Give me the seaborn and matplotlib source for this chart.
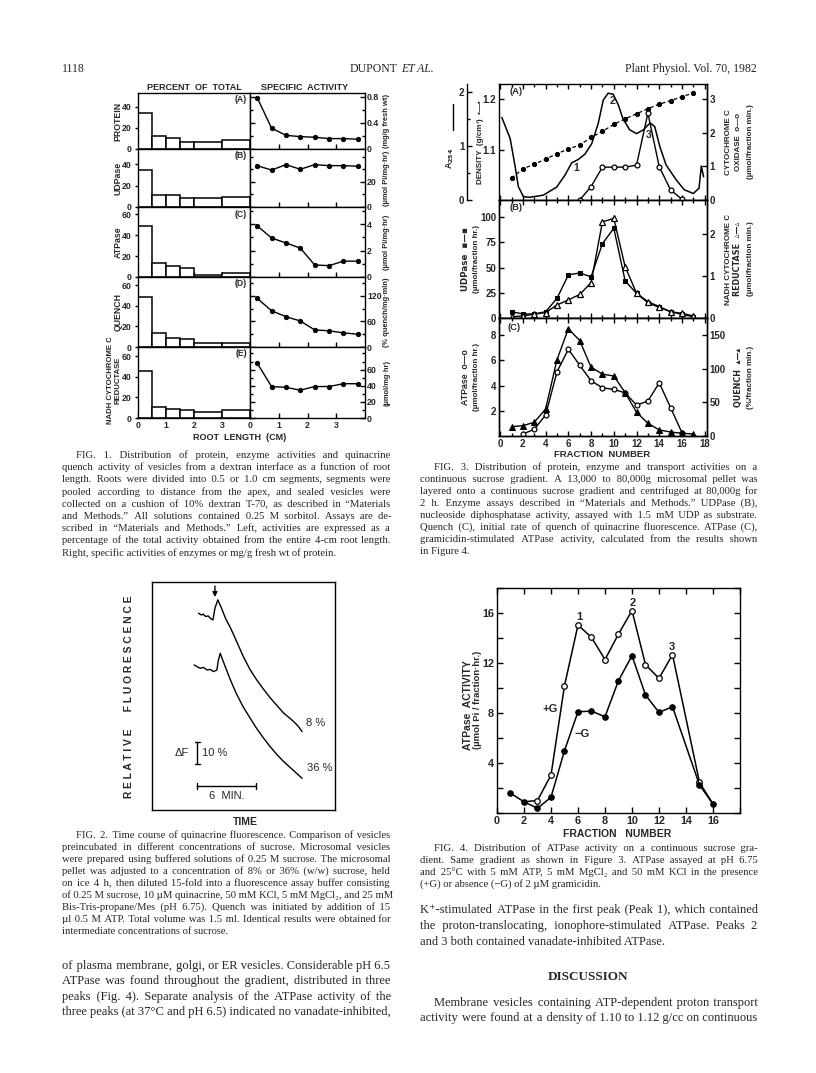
import numpy as np
import pandas as pd
import seaborn as sns
import matplotlib.pyplot as plt
from matplotlib.lines import Line2D
from matplotlib.ticker import FixedLocator

W, H = 816, 1073

# ---------------- Fig. 1 data ----------------
seg_edges = [0, 0.5, 1.0, 1.5, 2.0, 3.0, 4.0]
seg_mid = [0.25, 0.75, 1.25, 1.75, 2.5, 3.5]
pct_protein = [34, 12.5, 10.5, 7, 7, 8.5]
pct_udpase = [34, 11.5, 11.5, 8, 8.5, 9]
pct_atpase = [48.5, 13, 10.5, 8.5, 1.5, 3.5]
pct_quench = [48.5, 13.5, 9, 7.5, 4, 3.5]
pct_nadh = [45.5, 10.5, 9, 8, 5.5, 8]

root_pos = [0.25, 0.75, 1.25, 1.75, 2.25, 2.75, 3.25, 3.75]
sa_protein = [0.79, 0.32, 0.21, 0.19, 0.18, 0.16, 0.16, 0.15]
sa_udpase = [32.8, 29.3, 33.6, 29.9, 33.6, 32.8, 32.8, 32.3]
sa_atpase = [3.88, 2.95, 2.58, 2.19, 0.91, 0.86, 1.2, 1.2]
sa_quench = [114, 85, 71, 61, 40, 38, 33, 30]
sa_nadh = [68, 39, 38, 34.5, 39, 39, 42.5, 42.5]

# ---------------- Fig. 2 data ----------------
upper_t = [4.8, 5.1, 5.3, 5.55, 5.8, 6.05, 6.3, 6.5, 6.8, 7.2, 7.6, 8.1, 8.7,
           9.4, 10.1, 10.8, 11.5, 12.2, 12.9, 13.6, 14.3, 14.9, 15.2, 15.5]
upper_f = [89.4, 88.6, 89.0, 87.9, 88.2, 87.0, 86.4, 91.7, 95.5, 91.5, 87.0,
           82.8, 77.0, 70.0, 64.0, 59.2, 55.0, 51.0, 47.5, 44.0, 41.5, 39.0,
           37.5, 35.6]
lower_t = [4.35, 4.7, 5.0, 5.3, 5.7, 6.0, 6.35, 6.7, 6.85, 7.05, 7.4, 7.8, 8.1,
           8.7, 9.4, 10.1, 10.8, 11.5, 12.2, 12.9, 13.6, 14.3, 14.9, 15.5]
lower_f = [65.9, 65.0, 64.4, 64.8, 63.6, 63.9, 62.9, 63.6, 68.0, 71.2, 67.0,
           62.5, 59.1, 53.0, 47.0, 42.0, 37.1, 32.8, 28.8, 25.2, 22.0, 19.2,
           16.8, 14.4]

# ---------------- Fig. 3 data ----------------
frac = list(range(1, 18))
density = [1.043, 1.062, 1.071, 1.081, 1.092, 1.101, 1.109, 1.124, 1.136,
           1.150, 1.161, 1.171, 1.181, 1.190, 1.197, 1.205, 1.212]
a254_x = [0.15, 0.88, 1.32, 1.6, 2.05, 2.6, 3.8, 4.98, 5.7, 6.3, 6.87, 7.46,
          8.05, 8.63, 9.07, 9.5, 9.95, 10.4, 10.8, 11.4, 12.0, 12.6, 13.2,
          13.6, 14.05, 14.6, 15.5, 16.2, 17.0, 17.5, 17.7, 17.9]
a254 = [1.53, 1.14, 0.62, 0.25, 0.06, 0.05, 0.09, 0.24, 0.46, 0.69, 0.75, 0.85,
        1.04, 1.42, 1.85, 1.98, 1.96, 1.76, 1.51, 1.3, 1.23, 1.3, 1.43, 1.36,
        0.99, 0.65, 0.37, 0.19, 0.12, 0.22, 0.63, 0.43]
cyt_frac = [7, 8, 9, 10, 11, 12, 13, 14, 15, 16]
cyt_ox = [0.0, 0.4, 0.98, 0.98, 0.98, 1.04, 2.59, 0.99, 0.3, 0.02]
udpase = [6.2, 4, 4, 6.2, 19.4, 42.7, 44.7, 40.8, 73.7, 89, 36.8, 24.4, 15.1,
          10.5, 6.2, 3.6, 1.3]
nadh_red = [0.03, 0.05, 0.09, 0.13, 0.31, 0.43, 0.56, 0.84, 2.29, 2.37, 1.22,
            0.59, 0.39, 0.27, 0.15, 0.11, 0.05]
quench = [13.8, 15.3, 20.3, 40, 113, 159, 141.6, 102, 91.7, 89, 64.3, 35.2,
          18.9, 8.9, 5.9, 4, 3]
atp_frac = list(range(2, 17))
atpase_gs = [0.16, 0.53, 1.66, 5.08, 6.87, 5.61, 4.37, 3.82, 3.69, 3.42, 2.45,
             2.77, 4.21, 2.24, 0.26]

# ---------------- Fig. 4 data ----------------
minus_frac = [1, 2, 3, 4, 5, 6, 7, 8, 9, 10, 11, 12, 13, 15, 16]
minus_g = [1.58, 0.9, 0.38, 1.26, 4.99, 8.1, 8.15, 7.7, 10.59, 12.59, 9.44,
           8.05, 8.5, 2.24, 0.72]
plus_frac = [2, 3, 4, 5, 6, 7, 8, 9, 10, 11, 12, 13, 15, 16]
plus_g = [0.9, 1.0, 3.04, 10.19, 15.04, 14.05, 12.27, 14.32, 16.19, 11.87,
          10.77, 12.67, 2.45, 0.72]

# ---------------- text ----------------
cap1 = ["FIG. 1. Distribution of protein, enzyme activities and quinacrine",
        "quench activity of vesicles from a dextran interface as a function of root",
        "length. Roots were divided into 0.5 or 1.0 cm segments, segments were",
        "pooled according to distance from the apex, and sealed vesicles were",
        "collected on a cushion of 10% dextran T-70, as described in \u201cMaterials",
        "and Methods.\u201d All solutions contained 0.25 M sorbitol. Assays are de-",
        "scribed in \u201cMaterials and Methods.\u201d Left, activities are expressed as a",
        "percentage of the total activity obtained from the entire 4-cm root length.",
        "Right, specific activities of enzymes or mg/g fresh wt of protein."]
cap3 = ["FIG. 3. Distribution of protein, enzyme and transport activities on a",
        "continuous sucrose gradient. A 13,000 to 80,000g microsomal pellet was",
        "layered onto a continuous sucrose gradient and centrifuged at 80,000g for",
        "2 h. Enzyme assays described in \u201cMaterials and Methods.\u201d UDPase (B),",
        "nucleoside diphosphatase activity, assayed with 1.5 mM UDP as substrate.",
        "Quench (C), initial rate of quench of quinacrine fluorescence. ATPase (C),",
        "gramicidin-stimulated ATPase activity, calculated from the results shown",
        "in Figure 4."]
cap2 = ["FIG. 2. Time course of quinacrine fluorescence. Comparison of vesicles",
        "preincubated in different concentrations of sucrose. Microsomal vesicles",
        "were prepared using buffered solutions of 0.25 M sucrose. The microsomal",
        "pellet was adjusted to a concentration of 8% or 36% (w/w) sucrose, held",
        "on ice 4 h, then diluted 15-fold into a fluorescence assay buffer consisting",
        "of 0.25 M sucrose, 10 \u00b5M quinacrine, 50 mM KCl, 5 mM MgCl\u2082, and 25 mM",
        "Bis-Tris-propane/Mes (pH 6.75). Quench was initiated by addition of 15",
        "\u00b5l 0.5 M ATP. Total volume was 1.5 ml. Identical results were obtained for",
        "intermediate concentrations of sucrose."]
cap4 = ["FIG. 4. Distribution of ATPase activity on a continuous sucrose gra-",
        "dient. Same gradient as shown in Figure 3. ATPase assayed at pH 6.75",
        "and 25\u00b0C with 5 mM ATP, 5 mM MgCl\u2082 and 50 mM KCl in the presence",
        "(+G) or absence (\u2212G) of 2 \u00b5M gramicidin."]
body_left = ["of plasma membrane, golgi, or ER vesicles. Considerable pH 6.5",
             "ATPase was found throughout the gradient, distributed in three",
             "peaks (Fig. 4). Separate analysis of the ATPase activity of the",
             "three peaks (at 37\u00b0C and pH 6.5) indicated no vanadate-inhibited,"]
body_right1 = ["K\u207a-stimulated ATPase in the first peak (Peak 1), which contained",
               "the proton-translocating, ionophore-stimulated ATPase. Peaks 2",
               "and 3 both contained vanadate-inhibited ATPase."]
body_right2 = ["Membrane vesicles containing ATP-dependent proton transport",
               "activity were found at a density of 1.10 to 1.12 g/cc on continuous"]

SERIF = ['Liberation Serif', 'DejaVu Serif']
SANS = ['Liberation Sans', 'DejaVu Sans']

sns.set_style("ticks")
plt.rcParams['font.family'] = SANS
plt.rcParams['font.weight'] = 'bold'

fig = plt.figure(figsize=(W / 100, H / 100), dpi=100)
fig.patch.set_facecolor('white')


def box(x0, y0, x1, y1):
    return fig.add_axes([x0 / W, 1 - y1 / H, (x1 - x0) / W, (y1 - y0) / H])


def ftext(x, y, s, **kw):
    return fig.text(x / W, 1 - y / H, s, **kw)


def style(ax, size):
    for sp in ax.spines.values():
        sp.set_linewidth(1.0)
        sp.set_color('black')
    ax.tick_params(which='both', direction='in', labelsize=size, color='black',
                   width=1.0, pad=2)
    ax.tick_params(which='major', length=3.5)
    ax.tick_params(which='minor', length=2)
    ax.set(xlabel='', ylabel='')


def justify(lines, x0, x1, y0, step, size, indent=0, last_ragged=True):
    # one text per line; word gaps are padded with narrow spaces to fill the column
    r = fig.canvas.get_renderer()
    kw = dict(fontsize=size, family=SERIF, fontweight='normal', va='baseline')
    pad_char, unit = None, 0
    for ch in ["\u200a", "\u2009"]:
        a = ftext(0, 0, "x" + ch * 40 + "x", **kw)
        b = ftext(0, 0, "xx", **kw)
        unit = (a.get_window_extent(r).width - b.get_window_extent(r).width) / 40
        a.remove()
        b.remove()
        if unit > 0.3:
            pad_char = ch
            break
    for i, line in enumerate(lines):
        y = y0 + i * step
        xs = x0 + (indent if i == 0 else 0)
        t = ftext(xs, y, line, **kw)
        words = line.split(' ')
        if (i == len(lines) - 1 and last_ragged) or len(words) == 1 or pad_char is None:
            continue
        extra = (x1 - xs) - t.get_window_extent(r).width
        total = max(int(round(extra / unit)), 0)
        base, rem = divmod(total, len(words) - 1)
        parts = [words[0]]
        for j, w in enumerate(words[1:]):
            parts.append(' ' + pad_char * (base + (1 if j < rem else 0)) + w)
        t.set_text(''.join(parts))


def vline(x, y0, y1, lw=1.0):
    fig.add_artist(Line2D([x / W, x / W], [1 - y0 / H, 1 - y1 / H],
                          color='black', lw=lw))


# ---------------- header ----------------
ftext(62, 72, "1118", fontsize=8.5, family=SERIF, fontweight='normal', va='baseline')
ftext(397, 72, "DUPONT", fontsize=8.5, family=SERIF, fontweight='normal',
      va='baseline', ha='right')
ftext(401, 72, "ET AL.", fontsize=8.5, family=SERIF, fontweight='normal',
      style='italic', va='baseline', ha='left')
ftext(757, 72, "Plant Physiol. Vol. 70, 1982", fontsize=8.5, family=SERIF,
      fontweight='normal', va='baseline', ha='right')

# ---------------- Fig. 1 ----------------
f1_rows = [
    dict(y0=93, y1=149, pct=pct_protein, sa=sa_protein, name="PROTEIN",
         unit="(mg/g fresh wt)", tag="(A)", ltop=53, lt=[0, 20, 40],
         rtop=0.86, rt=[0, 0.4, 0.8], rl=["0", "0.4", "0.8"], rm=[0.2, 0.6]),
    dict(y0=149, y1=207, pct=pct_udpase, sa=sa_udpase, name="UDPase",
         unit="(\u00b5mol Pi/mg\u00b7hr)", tag="(B)", ltop=54, lt=[0, 20, 40],
         rtop=46, rt=[0, 20], rl=["0", "20"], rm=[10, 30, 40]),
    dict(y0=207, y1=277, pct=pct_atpase, sa=sa_atpase, name="ATPase",
         unit="(\u00b5mol Pi/mg\u00b7hr)", tag="(C)", ltop=67, lt=[0, 20, 40, 60],
         rtop=5.3, rt=[0, 2, 4], rl=["0", "2", "4"], rm=[1, 3, 5]),
    dict(y0=277, y1=347, pct=pct_quench, sa=sa_quench, name="QUENCH",
         unit="(% quench/mg\u00b7min)", tag="(D)", ltop=68, lt=[0, 20, 40, 60],
         rtop=164, rt=[0, 60, 120], rl=["0", "60", "120"], rm=[30, 90, 150]),
    dict(y0=347, y1=418, pct=pct_nadh, sa=sa_nadh,
         name="NADH CYTOCHROME C\nREDUCTASE", unit="(\u00b5mol/mg\u00b7hr)",
         tag="(E)", ltop=69, lt=[0, 20, 40, 60], rtop=88, rt=[0, 20, 40, 60],
         rl=["0", "20", "40", "60"], rm=[10, 30, 50, 70, 80]),
]

for k, row in enumerate(f1_rows):
    last = k == len(f1_rows) - 1
    axL = box(138, row['y0'], 250, row['y1'])
    sns.histplot(x=seg_mid, weights=row['pct'], bins=seg_edges, ax=axL,
                 color='white', edgecolor='black', linewidth=1.1, alpha=1)
    axL.set_xlim(0, 4)
    axL.set_ylim(0, row['ltop'])
    axL.set_yticks(row['lt'])
    style(axL, 6.3)
    axL.tick_params(axis='y', direction='out', length=2.5)
    if last:
        axL.set_xticks([0, 1, 2, 3])
    else:
        axL.set_xticks([1, 2, 3], ["", "", ""])

    axR = box(250, row['y0'], 365, row['y1'])
    sns.lineplot(x=root_pos, y=row['sa'], ax=axR, color='black', marker='o',
                 markersize=3.2, markeredgecolor='black', markeredgewidth=0.6,
                 linewidth=1.0)
    axR.set_xlim(0, 4)
    axR.set_ylim(0, row['rtop'])
    axR.yaxis.tick_right()
    axR.set_yticks(row['rt'], row['rl'])
    axR.yaxis.set_minor_locator(FixedLocator(row['rm']))
    style(axR, 6.3)
    axR.tick_params(axis='y', which='both', left=True, right=True, pad=1.5)
    if last:
        axR.set_xticks([0, 1, 2, 3])
    else:
        axR.set_xticks([1, 2, 3], ["", "", ""])

    yc = (row['y0'] + row['y1']) / 2
    if last:
        ftext(114, yc - 2, row['name'], rotation=90, fontsize=5.6, ha='center',
              va='center', linespacing=1.0)
    else:
        ftext(118, yc, row['name'], rotation=90, fontsize=6.3, ha='center',
              va='center')
    ftext(387, yc, row['unit'], rotation=90, fontsize=5.4, ha='center',
          va='center')
    ftext(247, row['y0'] + 7, row['tag'], fontsize=6.3, ha='right', va='center')

ftext(194, 87, "PERCENT  OF  TOTAL", fontsize=6.5, ha='center', va='center')
ftext(305, 87, "SPECIFIC  ACTIVITY", fontsize=6.5, ha='center', va='center')
ftext(240, 437, "ROOT  LENGTH  (CM)", fontsize=6.5, ha='center', va='center')

justify(cap1, 62, 390, 458, 12.2, 7.7, indent=14)

# ---------------- Fig. 3 ----------------
X3 = (-0.1, 18.2)


def frac_axis(ax, labels):
    ax.set_xlim(*X3)
    ax.xaxis.set_minor_locator(FixedLocator(list(range(1, 18, 2))))
    if labels:
        ax.set_xticks(list(range(0, 19, 2)))
    else:
        ax.set_xticks(list(range(0, 19, 2)), [""] * 10)
    ax.tick_params(axis='x', which='both', top=True, bottom=True)


# (A)
fA = box(499, 84, 707, 200)
sns.lineplot(x=frac, y=density, ax=fA, color='black', marker='o', markersize=3,
             markeredgecolor='black', linewidth=0.9, linestyle=(0, (3, 2)))
fA.set_ylim(1.0, 1.23)
fA.set_yticks([1.1, 1.2], ["1.1", "1.2"])
frac_axis(fA, False)
style(fA, 7)
fA.tick_params(axis='y', right=False)

fA2 = fA.twinx()
sns.lineplot(x=a254_x, y=a254, ax=fA2, color='black', linewidth=1.1, sort=False)
fA2.set_ylim(0, 2.15)
fA2.spines['left'].set_position(('outward', 23))
fA2.yaxis.set_ticks_position('left')
fA2.set_yticks([0, 1, 2])
fA2.yaxis.set_minor_locator(FixedLocator([0.5, 1.5]))
style(fA2, 7)
for s in ['right', 'top', 'bottom']:
    fA2.spines[s].set_visible(False)
fA2.spines['left'].set_bounds(0, 2.15)

fA3 = fA.twinx()
sns.lineplot(x=cyt_frac, y=cyt_ox, ax=fA3, color='black', marker='o',
             markersize=3.5, markerfacecolor='white', markeredgecolor='black',
             markeredgewidth=0.9, linewidth=1.0)
fA3.set_ylim(0, 3.46)
fA3.set_yticks([0, 1, 2, 3])
style(fA3, 7)
for s in ['left', 'top', 'bottom']:
    fA3.spines[s].set_visible(False)

ftext(510, 92, "(A)", fontsize=6.8, va='center')
ftext(576, 168, "1", fontsize=7.5, ha='center', va='center')
ftext(612, 101, "2", fontsize=7.5, ha='center', va='center')
ftext(649, 135, "3", fontsize=7.5, ha='center', va='center')

# (B)
fB = box(499, 200, 707, 318)
sns.lineplot(x=frac, y=udpase, ax=fB, color='black', marker='s', markersize=3.2,
             markeredgecolor='black', linewidth=1.0)
fB.set_ylim(0, 117)
fB.set_yticks([0, 25, 50, 75, 100])
frac_axis(fB, False)
style(fB, 7)
fB.tick_params(axis='y', right=False)
fB2 = fB.twinx()
sns.lineplot(x=frac, y=nadh_red, ax=fB2, color='black', marker='^',
             markersize=4, markerfacecolor='white', markeredgecolor='black',
             markeredgewidth=0.9, linewidth=1.0)
fB2.set_ylim(0, 2.81)
fB2.set_yticks([0, 1, 2])
style(fB2, 7)
ftext(510, 208, "(B)", fontsize=6.8, va='center')

# (C)
fC = box(499, 318, 707, 436)
sns.lineplot(x=atp_frac, y=atpase_gs, ax=fC, color='black', marker='o',
             markersize=3.5, markerfacecolor='white', markeredgecolor='black',
             markeredgewidth=0.9, linewidth=1.0)
fC.set_ylim(0, 9.35)
fC.set_yticks([2, 4, 6, 8])
frac_axis(fC, True)
style(fC, 7)
fC.tick_params(axis='y', right=False)
fC2 = fC.twinx()
sns.lineplot(x=frac, y=quench, ax=fC2, color='black', marker='^',
             markersize=4.2, markeredgecolor='black', linewidth=1.0)
fC2.set_ylim(0, 175)
fC2.set_yticks([0, 50, 100, 150])
style(fC2, 7)
ftext(507, 328, "(C)", fontsize=6.8, va='center')
ftext(602, 455, "FRACTION  NUMBER", fontsize=6.8, ha='center', va='center')

# Fig. 3 axis titles
vline(453, 104, 130)
ftext(450, 158, "A$_{254}$", rotation=90, fontsize=6.5, ha='center', va='center')
ftext(481, 142, "DENSITY  (g/cm\u00b3)  \u2022\u2014\u2022", rotation=90,
      fontsize=5.8, ha='center', va='center', family=SANS)
ftext(466, 259, "UDPase  \u25aa\u2014\u25aa", rotation=90, fontsize=6.3,
      ha='center', va='center', family=['DejaVu Sans'])
ftext(477, 259, "(\u00b5mol/fraction hr.)", rotation=90, fontsize=5.8,
      ha='center', va='center')
ftext(466, 377, "ATPase  o\u2014o", rotation=90, fontsize=6.3, ha='center',
      va='center')
ftext(477, 377, "(\u00b5mol/fraction hr.)", rotation=90, fontsize=5.8,
      ha='center', va='center')

ftext(728, 142, "CYTOCHROME C", rotation=90, fontsize=5.8, ha='center', va='center')
ftext(738, 142, "OXIDASE  o\u2014o", rotation=90, fontsize=5.8, ha='center',
      va='center')
ftext(750, 142, "(\u00b5mol/fraction min.)", rotation=90, fontsize=5.8,
      ha='center', va='center')
ftext(728, 259, "NADH CYTOCHROME C", rotation=90, fontsize=5.8, ha='center',
      va='center')
ftext(738, 259, "REDUCTASE  \u25b5\u2014\u25b5", rotation=90, fontsize=5.8,
      ha='center', va='center', family=['DejaVu Sans'])
ftext(750, 259, "(\u00b5mol/fraction min.)", rotation=90, fontsize=5.8,
      ha='center', va='center')
ftext(738, 377, "QUENCH  \u25b4\u2014\u25b4", rotation=90, fontsize=5.8,
      ha='center', va='center', family=['DejaVu Sans'])
ftext(750, 377, "(%/fraction min.)", rotation=90, fontsize=5.8, ha='center',
      va='center')

justify(cap3, 420, 757, 470, 12.0, 7.7, indent=14)

# ---------------- Fig. 2 ----------------
f2 = box(152, 582, 335, 810)
sns.lineplot(x=upper_t, y=upper_f, ax=f2, color='black', linewidth=1.0, sort=False)
sns.lineplot(x=lower_t, y=lower_f, ax=f2, color='black', linewidth=1.0, sort=False)
f2.set_xlim(0, 18.9)
f2.set_ylim(0, 103.6)
f2.set_xticks([])
f2.set_yticks([])
style(f2, 7)
f2.annotate("", xy=(6.5, 95.5), xytext=(6.5, 103.0),
            arrowprops=dict(arrowstyle='-|>', color='black', lw=1.0,
                            mutation_scale=7))
# scale bars
f2.plot([4.69, 4.69], [20.9, 31.0], color='black', lw=1.0)
f2.plot([4.45, 4.93], [20.9, 20.9], color='black', lw=1.0)
f2.plot([4.45, 4.93], [31.0, 31.0], color='black', lw=1.0)
f2.text(3.1, 26, "\u0394F", fontsize=8, ha='center', va='center', fontweight='normal')
f2.text(5.2, 26, "10 %", fontsize=8, ha='left', va='center', fontweight='normal')
f2.plot([4.69, 10.76], [10.9, 10.9], color='black', lw=1.0)
f2.plot([4.69, 4.69], [9.6, 12.2], color='black', lw=1.0)
f2.plot([10.76, 10.76], [9.6, 12.2], color='black', lw=1.0)
f2.text(7.7, 6.3, "6  MIN.", fontsize=8, ha='center', va='center', fontweight='normal')
f2.text(15.9, 39.5, "8 %", fontsize=8, ha='left', va='center', fontweight='normal')
f2.text(16.0, 19.0, "36 %", fontsize=8, ha='left', va='center', fontweight='normal')
ftext(129, 697, "R E L A T I V E      F L U O R E S C E N C E", rotation=90,
      fontsize=7.4, ha='center', va='center')
ftext(245, 822, "TIME", fontsize=7.5, ha='center', va='center')

justify(cap2, 62, 390, 838, 12.0, 7.7, indent=14)
justify(body_left, 62, 390, 969, 15.3, 9.0, indent=0, last_ragged=False)

# ---------------- Fig. 4 ----------------
f4 = box(497, 588, 740, 813)
sns.lineplot(x=plus_frac, y=plus_g, ax=f4, color='black', marker='o',
             markersize=4, markerfacecolor='white', markeredgecolor='black',
             markeredgewidth=0.9, linewidth=1.1,
             markevery=list(range(1, len(plus_frac) - 1)))
sns.lineplot(x=minus_frac, y=minus_g, ax=f4, color='black', marker='o',
             markersize=4, markeredgecolor='black', linewidth=1.1)
f4.set_xlim(0, 18)
f4.set_ylim(0, 18)
f4.set_yticks(list(range(0, 19, 2)),
              ["", "", "4", "", "8", "", "12", "", "16", ""])
style(f4, 7.8)
f4.tick_params(which='both', top=True, right=True, length=4)
f4.set_xticks(list(range(0, 19, 2)), [str(v) for v in range(0, 17, 2)] + [""])
ftext(579, 617, "1", fontsize=8, ha='center', va='center')
ftext(633, 603, "2", fontsize=8, ha='center', va='center')
ftext(672, 647, "3", fontsize=8, ha='center', va='center')
ftext(550, 709, "+G", fontsize=8, ha='center', va='center')
ftext(582, 734, "\u2212G", fontsize=8, ha='center', va='center')
ftext(468, 705, "ATPase  ACTIVITY", rotation=90, fontsize=7.5, ha='center',
      va='center')
ftext(478, 700, "(\u00b5mol Pi / fraction\u00b7hr.)", rotation=90, fontsize=6.8,
      ha='center', va='center')
ftext(617, 834, "FRACTION   NUMBER", fontsize=7.5, ha='center', va='center')

justify(cap4, 420, 757, 851, 12.0, 7.7, indent=14)
justify(body_right1, 420, 757, 913, 15.8, 9.0)
ftext(588, 980, "DISCUSSION", fontsize=9.5, family=SERIF, fontweight='bold',
      ha='center', va='baseline')
justify(body_right2, 420, 757, 1006, 15.3, 9.0, indent=14, last_ragged=False)

fig.savefig("out.png", dpi=100, facecolor='white')
